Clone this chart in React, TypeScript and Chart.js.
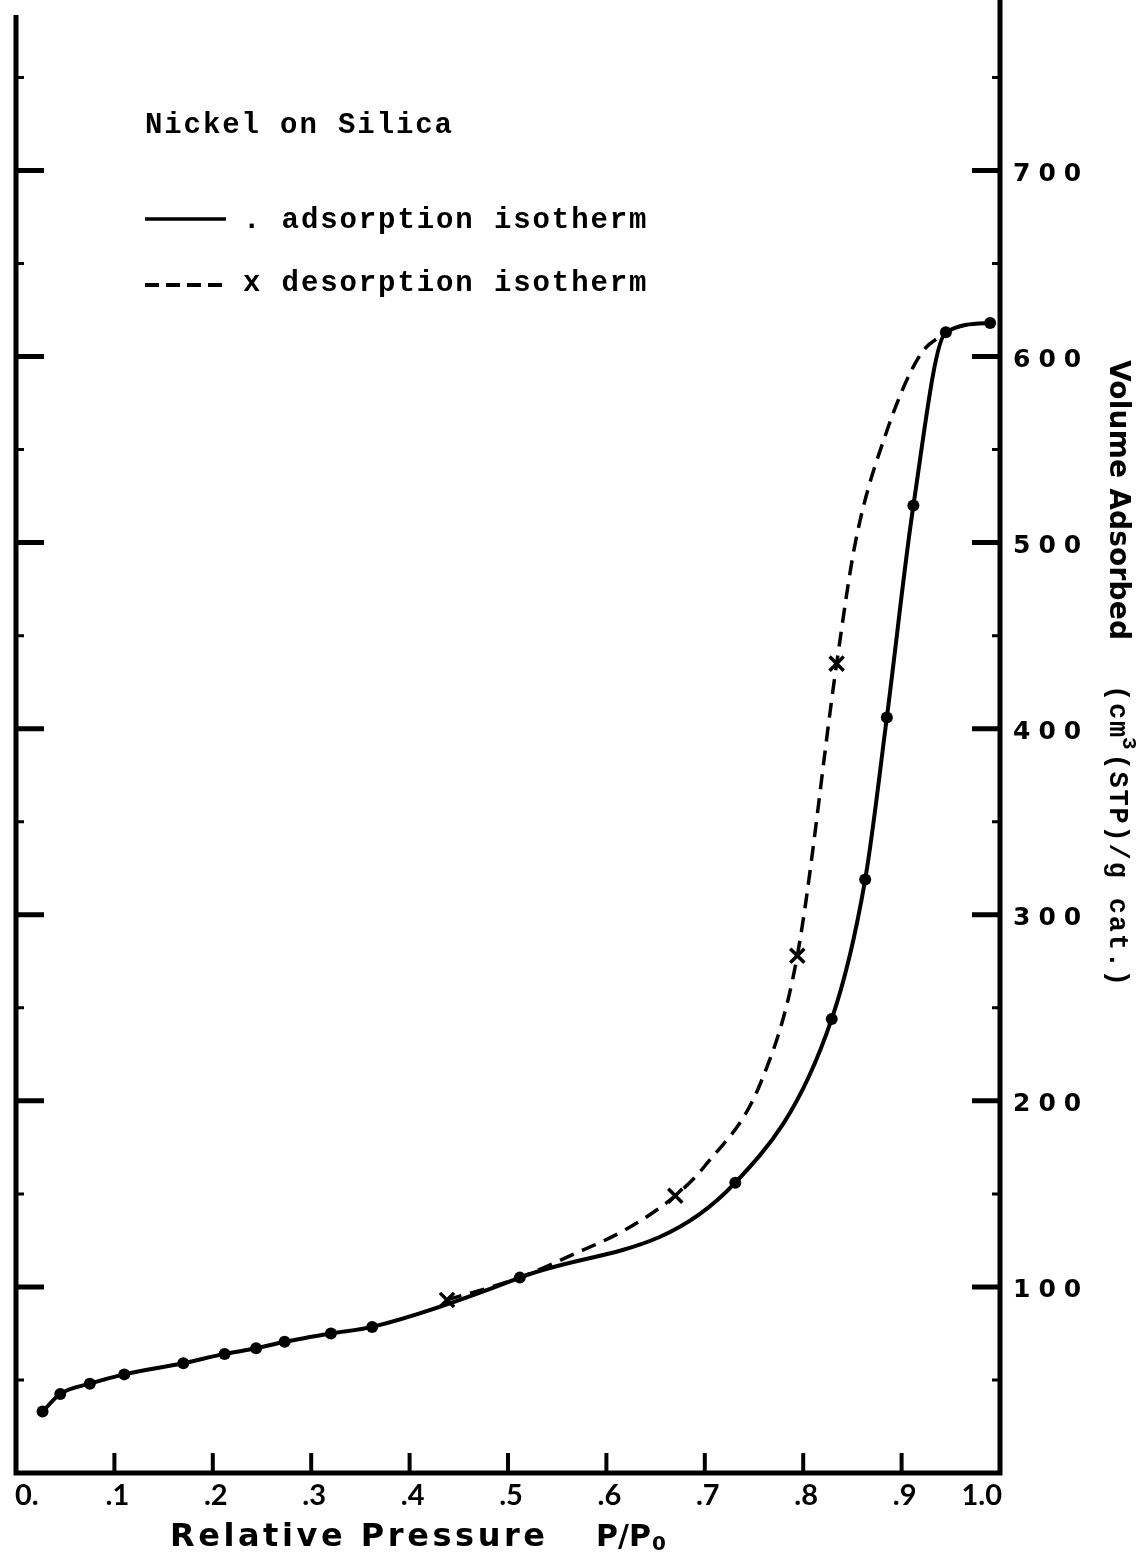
import { useEffect, useRef } from "react";
import { Chart, registerables } from "chart.js";

Chart.register(...registerables);

// ---- data ----
const adsorptionX = [0.027, 0.045, 0.075, 0.11, 0.17, 0.212, 0.244, 0.273, 0.32, 0.362, 0.512, 0.731, 0.829, 0.863, 0.885, 0.912, 0.945, 0.99];
const adsorptionY = [33, 42.5, 48, 53, 59, 64, 67, 70.5, 75, 78.5, 105, 156, 244, 319, 406, 520, 613, 618];

const desorptionMarkX = [0.438, 0.67, 0.794, 0.834];
const desorptionMarkY = [93, 149, 278, 435];

const desorptionCurveX = [0.438, 0.512, 0.56, 0.62, 0.67, 0.70, 0.757, 0.794, 0.834, 0.853, 0.885, 0.919, 0.945];
const desorptionCurveY = [93, 105, 116, 131, 149, 165, 210, 278, 435, 500, 560, 601, 613];

const xTickValues = [0, 0.1, 0.2, 0.3, 0.4, 0.5, 0.6, 0.7, 0.8, 0.9, 1.0];
const xTickLabels = ["0.", ".1", ".2", ".3", ".4", ".5", ".6", ".7", ".8", ".9", "1.0"];
const yTickValues = [100, 200, 300, 400, 500, 600, 700];
const yTickLabels = ["100", "200", "300", "400", "500", "600", "700"];
const yMinorValues = [50, 150, 250, 350, 450, 550, 650, 750];

const chartTitle = "Nickel on Silica";
const legendAdsorption = ". adsorption isotherm";
const legendDesorption = "x desorption isotherm";
const yTitleMain = "Volume Adsorbed";
const yTitleUnitA = "(cm";
const yTitleUnitSup = "3";
const yTitleUnitB = "(STP)/g cat.)";
const xTitleMain = "Relative Pressure";
const xTitleVar = "P/P";
const xTitleVarSub = "0";

const MONO = '"Liberation Mono", "DejaVu Sans Mono", monospace';
const SANS = '"DejaVu Sans", sans-serif';

function fitSpacing(ctx: CanvasRenderingContext2D, text: string, font: string, target: number) {
  ctx.font = font;
  (ctx as any).letterSpacing = "0px";
  const w = ctx.measureText(text).width;
  return (target - w) / Math.max(1, text.length - 1);
}

function spacedText(ctx: CanvasRenderingContext2D, text: string, x: number, y: number, font: string, spacing: number) {
  ctx.font = font;
  (ctx as any).letterSpacing = spacing + "px";
  ctx.fillText(text, x, y);
  const w = ctx.measureText(text).width;
  (ctx as any).letterSpacing = "0px";
  return w;
}

const paperPlugin = {
  id: "paperPlugin",
  afterDraw(chart: any) {
    const ctx: CanvasRenderingContext2D = chart.ctx;
    const { left, right, top, bottom } = chart.chartArea;
    const xs = chart.scales.x;
    const ys = chart.scales.y;
    ctx.save();
    ctx.strokeStyle = "#000";
    ctx.fillStyle = "#000";
    ctx.lineJoin = "miter";
    ctx.lineCap = "butt";

    // frame (left, bottom, right)
    ctx.lineWidth = 5;
    ctx.beginPath();
    ctx.moveTo(left, top + 12);
    ctx.lineTo(left, bottom);
    ctx.lineTo(right, bottom);
    ctx.lineTo(right, 0);
    ctx.stroke();

    // x ticks (inward, upward)
    ctx.lineWidth = 4;
    xTickValues.forEach((v) => {
      if (v <= 0 || v >= 1) return;
      const px = xs.getPixelForValue(v);
      ctx.beginPath();
      ctx.moveTo(px, bottom);
      ctx.lineTo(px, bottom - 20);
      ctx.stroke();
    });

    // y ticks both sides
    yTickValues.forEach((v) => {
      const py = ys.getPixelForValue(v);
      ctx.lineWidth = 5;
      ctx.beginPath();
      ctx.moveTo(left, py);
      ctx.lineTo(left + 28, py);
      ctx.moveTo(right, py);
      ctx.lineTo(right - 28, py);
      ctx.stroke();
    });
    yMinorValues.forEach((v) => {
      const py = ys.getPixelForValue(v);
      ctx.lineWidth = 3;
      ctx.beginPath();
      ctx.moveTo(left, py);
      ctx.lineTo(left + 8, py);
      ctx.moveTo(right, py);
      ctx.lineTo(right - 8, py);
      ctx.stroke();
    });

    // x tick labels
    ctx.textBaseline = "alphabetic";
    const xFont = 'bold 29px Lato, "DejaVu Sans", sans-serif';
    ctx.font = xFont;
    xTickValues.forEach((v, i) => {
      const px = xs.getPixelForValue(v);
      const label = xTickLabels[i];
      if (i === 0) {
        ctx.textAlign = "left";
        ctx.fillText(label, left - 1, 1505);
      } else if (i === xTickValues.length - 1) {
        ctx.textAlign = "right";
        ctx.fillText(label, right + 2, 1505);
      } else {
        ctx.textAlign = "center";
        ctx.fillText(label, px + 3, 1505);
      }
    });

    // y tick labels (right)
    ctx.textAlign = "left";
    ctx.textBaseline = "middle";
    yTickValues.forEach((v, i) => {
      const py = ys.getPixelForValue(v);
      spacedText(ctx, yTickLabels[i], right + 13, py + 4, `bold 25px ${SANS}`, 8);
    });

    // x axis title
    ctx.textBaseline = "alphabetic";
    const xtFont = `bold 32px ${SANS}`;
    const sp = fitSpacing(ctx, xTitleMain, xtFont, 375);
    spacedText(ctx, xTitleMain, 170, 1546, xtFont, sp);
    const wv = spacedText(ctx, xTitleVar, 596, 1546, `bold 30px ${SANS}`, 0);
    spacedText(ctx, xTitleVarSub, 596 + wv + 1, 1550, `bold 20px ${SANS}`, 0);

    // y axis title (rotated, reading downward)
    ctx.save();
    ctx.translate(1110, 0);
    ctx.rotate(Math.PI / 2);
    ctx.textAlign = "left";
    ctx.textBaseline = "alphabetic";
    const ytFont = `bold 28px ${SANS}`;
    const ysp = fitSpacing(ctx, yTitleMain, ytFont, 280);
    spacedText(ctx, yTitleMain, 360, 0, ytFont, ysp);
    const monoFont = `bold 27px ${MONO}`;
    let cx = 685;
    cx += spacedText(ctx, yTitleUnitA, cx, 0, monoFont, 1.8);
    cx += spacedText(ctx, yTitleUnitSup, cx - 2, -13, `bold 21px ${MONO}`, 1);
    spacedText(ctx, yTitleUnitB, cx + 1, 0, monoFont, 1.8);
    ctx.restore();

    // legend block (typewriter)
    const legFont = `bold 29px ${MONO}`;
    ctx.textAlign = "left";
    ctx.textBaseline = "alphabetic";
    spacedText(ctx, chartTitle, 145, 133, legFont, 1.9);
    ctx.lineWidth = 3.5;
    ctx.beginPath();
    ctx.moveTo(145, 219);
    ctx.lineTo(226, 219);
    ctx.stroke();
    spacedText(ctx, legendAdsorption, 243, 228, legFont, 1.9);
    ctx.lineWidth = 4;
    ctx.setLineDash([14, 7]);
    ctx.beginPath();
    ctx.moveTo(145, 285);
    ctx.lineTo(224, 285);
    ctx.stroke();
    ctx.setLineDash([]);
    spacedText(ctx, legendDesorption, 243, 291, legFont, 1.9);

    ctx.restore();
  },
};

export default function App() {
  const canvasRef = useRef<HTMLCanvasElement | null>(null);

  useEffect(() => {
    const canvas = canvasRef.current;
    if (!canvas) return;
    const toPts = (xa: number[], ya: number[]) => xa.map((x, i) => ({ x, y: ya[i] }));
    const chart = new Chart(canvas, {
      type: "line",
      data: {
        datasets: [
          {
            label: "adsorption isotherm",
            data: toPts(adsorptionX, adsorptionY),
            borderColor: "#000",
            backgroundColor: "#000",
            borderWidth: 4,
            pointRadius: 6,
            pointBackgroundColor: "#000",
            pointBorderWidth: 0,
            cubicInterpolationMode: "monotone",
            fill: false,
          },
          {
            label: "desorption curve",
            data: toPts(desorptionCurveX, desorptionCurveY),
            borderColor: "#000",
            borderWidth: 3.5,
            borderDash: [15, 9],
            pointRadius: 0,
            cubicInterpolationMode: "monotone",
            fill: false,
          },
          {
            label: "desorption isotherm",
            data: toPts(desorptionMarkX, desorptionMarkY),
            borderColor: "#000",
            showLine: false,
            pointStyle: "crossRot",
            pointRadius: 10,
            pointBorderWidth: 3.5,
            pointBorderColor: "#000",
          },
        ],
      },
      options: {
        responsive: false,
        maintainAspectRatio: false,
        devicePixelRatio: 1,
        animation: false,
        layout: { padding: { left: 16, right: 146, top: 3, bottom: 84 }, autoPadding: false },
        plugins: { legend: { display: false }, tooltip: { enabled: false }, title: { display: false } },
        scales: {
          x: { type: "linear", min: 0, max: 1, display: false },
          y: { type: "linear", min: 0, max: 790, display: false },
        },
        events: [],
      } as any,
      plugins: [paperPlugin],
    });
    return () => chart.destroy();
  }, []);

  return (
    <div style={{ position: "fixed", left: 0, top: 0, width: 1146, height: 1557, background: "#fff" }}>
      <canvas ref={canvasRef} width={1146} height={1557} style={{ width: 1146, height: 1557, display: "block" }} />
    </div>
  );
}
